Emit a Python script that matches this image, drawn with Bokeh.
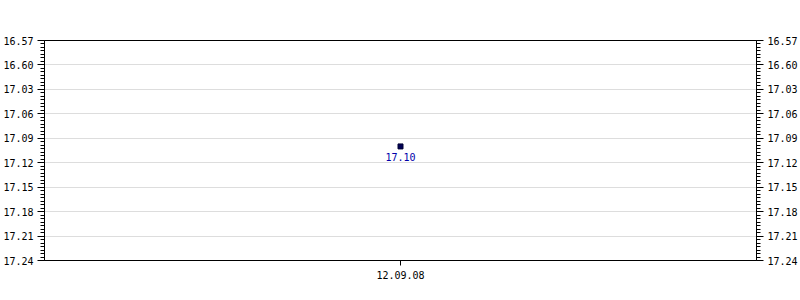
from bokeh.plotting import figure
from bokeh.models import (Range1d, FactorRange, FixedTicker, CustomJSTickFormatter,
                          LinearAxis, ColumnDataSource)
from bokeh.core.properties import value
from bokeh.embed import file_html
from bokeh.resources import INLINE

dates = ["12.09.08"]
prices = [17.10]
price_labels = ["17.10"]
y_ticks = [16.97, 17.00, 17.03, 17.06, 17.09, 17.12, 17.15, 17.18, 17.21, 17.24]
y_tick_labels = ["16.57", "16.60", "17.03", "17.06", "17.09", "17.12", "17.15", "17.18", "17.21", "17.24"]

FONT = "DejaVu Sans Mono"

p = figure(width=800, height=300, output_backend="svg", toolbar_location=None,
           x_range=FactorRange(*dates), y_range=Range1d(17.24, 16.97),
           min_border_left=40, min_border_right=40, min_border_top=40, min_border_bottom=40)
p.outline_line_color = "black"
p.outline_line_width = 1
p.background_fill_color = "white"
p.border_fill_color = "white"

minor = []
for i in range(len(y_ticks) - 1):
    step = (y_ticks[i + 1] - y_ticks[i]) / 7
    minor += [y_ticks[i] + step * k for k in range(1, 7)]

fmt = CustomJSTickFormatter(args=dict(labels=y_tick_labels), code="return labels[index];")

def style_y(ax):
    ax.ticker = FixedTicker(ticks=y_ticks, minor_ticks=minor)
    ax.formatter = fmt
    ax.major_label_text_font = FONT
    ax.major_label_text_font_size = "10px"
    ax.major_label_text_color = "black"
    ax.major_tick_out = 7
    ax.major_tick_in = 0
    ax.minor_tick_out = 4
    ax.minor_tick_in = 0
    ax.axis_line_color = "black"
    ax.major_label_standoff = 4

style_y(p.yaxis[0])
right = LinearAxis()
style_y(right)
p.add_layout(right, "right")

p.xaxis.major_label_text_font = FONT
p.xaxis.major_label_text_font_size = "10px"
p.xaxis.major_label_text_color = "black"
p.xaxis.major_tick_out = 5
p.xaxis.major_tick_in = 0
p.xaxis.major_label_standoff = 5
p.xaxis.axis_line_color = "black"

p.xgrid.grid_line_color = None
p.ygrid.grid_line_color = "#dddddd"
p.ygrid.ticker = FixedTicker(ticks=y_ticks)

src = ColumnDataSource(dict(x=dates, y=prices, t=price_labels))
p.scatter("x", "y", source=src, marker="square", size=5, fill_color="#000055",
          line_color="#000033")
p.text("x", "y", text="t", source=src, text_font=value(FONT), text_font_size="10px",
       text_color="#0000aa", text_align="center", text_baseline="top", y_offset=7)

open("out.html", "w").write(file_html(p, INLINE))
